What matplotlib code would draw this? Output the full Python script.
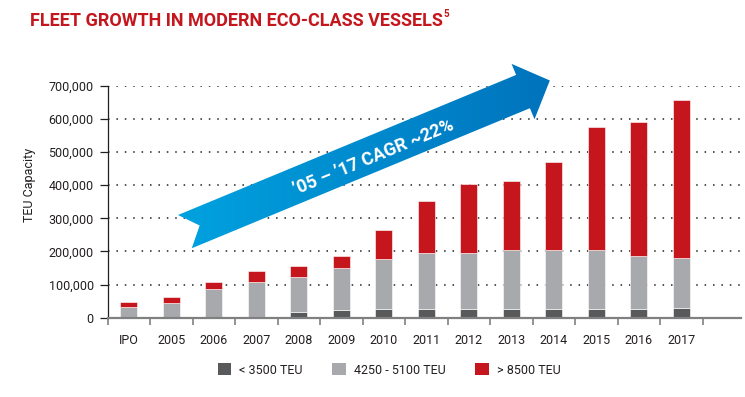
import numpy as np
import matplotlib
matplotlib.use("Agg")
import matplotlib.pyplot as plt
from matplotlib.patches import Polygon, Patch

FONT = ["Roboto", "DejaVu Sans"]
plt.rcParams["font.family"] = FONT

# fleet capacity by vessel class (TEU, thousands)
years = ["IPO", "2005", "2006", "2007", "2008", "2009", "2010",
         "2011", "2012", "2013", "2014", "2015", "2016", "2017"]
small = [0, 0, 0, 3, 18, 23, 27, 27, 27, 27, 27, 27, 27, 29]
mid = [33, 44, 88, 105, 104, 128, 149, 169, 169, 177, 177, 177, 158, 151]
large = [15, 18, 19, 33, 34, 35, 88, 155, 207, 208, 267, 371, 405, 477]
series_names = ["< 3500 TEU", "4250 - 5100 TEU", "> 8500 TEU"]
yticks = [0, 100000, 200000, 300000, 400000, 500000, 600000, 700000]

RED = "#c4161c"
GREY = "#a7a9ac"
DARK = "#58595b"
TXT = "#231f20"


def draw_arrow(ov):
    # big gradient arrow, geometry in figure pixels
    ang = np.deg2rad(22.5)
    u = np.array([np.cos(ang), -np.sin(ang)])
    n = np.array([np.sin(ang), np.cos(ang)])
    w, hw, ls, lh, notch = 36, 30, 366, 29, 16
    c0 = np.array([178, 215]) + n * w / 2
    pts = [c0 - n * w / 2,
           c0 + u * ls - n * w / 2,
           c0 + u * ls - n * hw,
           c0 + u * (ls + lh),
           c0 + u * ls + n * hw,
           c0 + u * ls + n * w / 2,
           c0 + n * w / 2,
           c0 + u * notch]
    poly = Polygon(pts, closed=True, facecolor="none", edgecolor="none")
    ov.add_patch(poly)
    grad = np.linspace(0, 1, 256).reshape(1, -1)
    cmap = matplotlib.colors.LinearSegmentedColormap.from_list(
        "blu", ["#00a3e0", "#0072bc"])
    im = ov.imshow(grad, cmap=cmap, extent=[170, 560, 260, 55],
                   aspect="auto", interpolation="bilinear")
    im.set_clip_path(poly)
    ov.text(374, 157, "\u201905 \u2013 \u201917 CAGR ~22%", color="white",
            fontsize=13, fontweight="bold", rotation=22.5,
            rotation_mode="anchor", ha="center", va="center")


def main():
    fig = plt.figure(figsize=(7.45, 3.97), dpi=100)
    ax = fig.add_axes([0.1444, 0.1997, 0.8502, 0.5844])

    x = np.arange(len(years))
    s = np.array(small) * 1000
    m = np.array(mid) * 1000
    l = np.array(large) * 1000
    bw = 0.4
    ax.bar(x, s, bw, color=DARK, edgecolor="white", linewidth=0.4, zorder=3)
    ax.bar(x, m, bw, bottom=s, color=GREY, edgecolor="white", linewidth=0.4, zorder=3)
    ax.bar(x, l, bw, bottom=s + m, color=RED, edgecolor="white", linewidth=0.4, zorder=3)

    ax.set_xlim(-0.5, 14.4)
    ax.set_ylim(0, 700000)
    ax.set_yticks(yticks)
    ax.set_yticklabels([f"{v:,}" for v in yticks], fontsize=9, color=TXT)
    ax.set_xticks(x)
    ax.set_xticklabels(years, fontsize=9, color=TXT)
    ax.tick_params(axis="x", length=0, pad=12)
    ax.set_xticks(np.arange(-0.5, len(years)), minor=True)
    ax.tick_params(axis="x", which="minor", length=5, width=1.2, color="#808080")
    ax.tick_params(axis="y", length=6, width=0.9, color=TXT, pad=4)

    for yv in yticks[1:]:
        ax.axhline(yv, color="#231f20", linestyle=(0, (1, 4.5)), linewidth=1.1, zorder=1)

    for side in ["top", "right"]:
        ax.spines[side].set_visible(False)
    ax.spines["left"].set_color(TXT)
    ax.spines["left"].set_linewidth(0.9)
    ax.spines["bottom"].set_color("#808080")
    ax.spines["bottom"].set_linewidth(1.6)
    ax.spines["bottom"].set_zorder(4)

    fig.text(30 / 745, 1 - 185 / 397, "TEU Capacity", rotation=90,
             fontsize=9, color=TXT, ha="center", va="center")

    t = fig.text(30 / 745, 1 - 26.5 / 397, "FLEET GROWTH IN MODERN ECO-CLASS VESSELS",
                 color=RED, fontsize=13, fontweight="bold", va="baseline")
    fig.canvas.draw()
    bb = t.get_window_extent()
    fig.text((bb.x1 + 1) / 745, 1 - 17 / 397, "5", color=RED, fontsize=7,
             fontweight="bold", va="baseline")

    handles = [Patch(facecolor=c, edgecolor="none") for c in (DARK, GREY, RED)]
    fig.legend(handles, series_names, loc="center", bbox_to_anchor=(389 / 745, 1 - 370 / 397),
               ncol=3, frameon=False, fontsize=9, handlelength=1.1, handleheight=1.1,
               handletextpad=0.6, columnspacing=2.4, labelcolor=TXT)

    ov = fig.add_axes([0, 0, 1, 1], zorder=5)
    ov.set_xlim(0, 745)
    ov.set_ylim(397, 0)
    ov.axis("off")
    ov.patch.set_alpha(0)
    draw_arrow(ov)

    fig.savefig("out.png", dpi=100)


if __name__ == "__main__":
    main()
